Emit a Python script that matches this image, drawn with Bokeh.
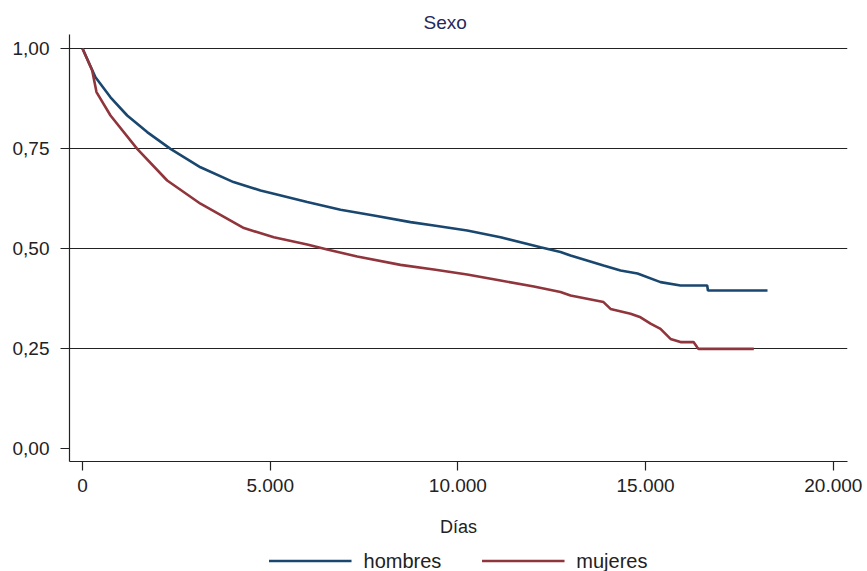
from bokeh.plotting import figure
from bokeh.models import Range1d, FixedTicker, Legend, LegendItem
from bokeh.layouts import column
from bokeh.embed import file_html
from bokeh.resources import INLINE

# Kaplan-Meier survival estimates (days, survival)
hombres_dias = [0, 346, 746, 1191, 1723, 2344, 3143, 4022, 4742, 5096, 5986, 6873,
                7760, 8737, 9359, 10247, 11135, 12201, 12733, 13000, 13879, 14332,
                14785, 15397, 15930, 16641, 16660, 18247]
hombres_surv = [1.0, 0.928, 0.878, 0.8325, 0.791, 0.749, 0.703, 0.666, 0.645, 0.637,
                0.616, 0.597, 0.5825, 0.566, 0.5575, 0.545, 0.528, 0.503, 0.491,
                0.4825, 0.4575, 0.445, 0.4375, 0.416, 0.4075, 0.4075, 0.395, 0.395]

mujeres_dias = [0, 258, 373, 746, 1457, 2256, 3143, 4300, 5096, 5986, 6519, 7318,
                8471, 9359, 10247, 11135, 12023, 12733, 13000, 13879, 14066, 14599,
                14865, 15131, 15397, 15664, 15930, 16277, 16374, 16410, 17882]
mujeres_surv = [1.0, 0.945, 0.891, 0.8325, 0.749, 0.67, 0.612, 0.551, 0.528, 0.51,
                0.4975, 0.48, 0.459, 0.4475, 0.435, 0.42, 0.405, 0.391, 0.3825,
                0.366, 0.349, 0.337, 0.328, 0.312, 0.299, 0.274, 0.266, 0.266,
                0.253, 0.249, 0.249]

series_names = ["hombres", "mujeres"]
x_ticks = [0, 5000, 10000, 15000, 20000]
x_tick_labels = ["0", "5.000", "10.000", "15.000", "20.000"]
y_ticks = [0.0, 0.25, 0.5, 0.75, 1.0]
y_tick_labels = ["0,00", "0,25", "0,50", "0,75", "1,00"]
grid_ticks = [0.25, 0.5, 0.75, 1.0]

FONT = "Liberation Sans"
FS = "19px"
TXT = "#222222"
BLUE = "#1a476f"
RED = "#90353b"

p = figure(width=867, height=550, output_backend="svg", toolbar_location=None,
           x_range=Range1d(-346, 20378), y_range=Range1d(-0.0325, 1.035),
           min_border_left=69, min_border_right=20, min_border_top=34,
           min_border_bottom=89)
p.outline_line_color = None
p.background_fill_color = "white"
p.border_fill_color = "white"

p.title.text = "Sexo"
p.title.text_font = FONT
p.title.text_font_size = FS
p.title.text_font_style = "normal"
p.title.text_color = "#1f2a5c"
p.title.align = "left"
p.title.offset = 354
p.title.standoff = 4

# axes
p.xaxis.ticker = FixedTicker(ticks=x_ticks)
p.xaxis.major_label_overrides = dict(zip(x_ticks, x_tick_labels))
p.yaxis.ticker = FixedTicker(ticks=y_ticks)
p.yaxis.major_label_overrides = dict(zip(y_ticks, y_tick_labels))
for ax in (p.xaxis, p.yaxis):
    ax.axis_line_color = TXT
    ax.axis_line_width = 1.2
    ax.major_tick_line_color = TXT
    ax.major_tick_line_width = 1.2
    ax.major_tick_in = 0
    ax.minor_tick_line_color = None
    ax.major_label_text_font = FONT
    ax.major_label_text_font_size = FS
    ax.major_label_text_color = TXT
    ax.axis_label_text_font = FONT
    ax.axis_label_text_font_size = "18px"
    ax.axis_label_text_font_style = "normal"
    ax.axis_label_text_color = TXT
p.xaxis.major_tick_out = 9
p.yaxis.major_tick_out = 9
p.xaxis.major_label_standoff = 8
p.yaxis.major_label_standoff = 11
p.yaxis.major_label_orientation = "horizontal"
p.xaxis.axis_label = "Días"
p.xaxis.axis_label_standoff = 22

p.xgrid.visible = False
p.ygrid.ticker = FixedTicker(ticks=grid_ticks)
p.ygrid.grid_line_color = TXT
p.ygrid.grid_line_width = 1.2

p.line(hombres_dias, hombres_surv, line_color=BLUE, line_width=2.6)
p.line(mujeres_dias, mujeres_surv, line_color=RED, line_width=2.6)

# legend strip below the chart (series drawn off-view, only legend keys show)
lg = figure(width=867, height=21, output_backend="svg", toolbar_location=None,
            x_range=Range1d(0, 20000), y_range=Range1d(10, 11),
            min_border_left=8, min_border_right=0, min_border_top=0,
            min_border_bottom=0)
lg.axis.visible = False
lg.grid.visible = False
lg.outline_line_color = None
lg.border_fill_color = "white"
k1 = lg.line(hombres_dias, hombres_surv, line_color=BLUE, line_width=2.6)
k2 = lg.line(mujeres_dias, mujeres_surv, line_color=RED, line_width=2.6)
legend = Legend(items=[LegendItem(label=series_names[0], renderers=[k1]),
                       LegendItem(label=series_names[1], renderers=[k2])],
                orientation="horizontal", location="center")
legend.label_text_font = FONT
legend.label_text_font_size = "20px"
legend.label_text_color = TXT
legend.glyph_width = 83
legend.glyph_height = 18
legend.label_standoff = 12
legend.spacing = 40
legend.padding = 0
legend.margin = 0
legend.border_line_color = None
legend.background_fill_alpha = 0
lg.add_layout(legend, "center")

open("out.html", "w").write(file_html(column(p, lg, spacing=0), INLINE))
